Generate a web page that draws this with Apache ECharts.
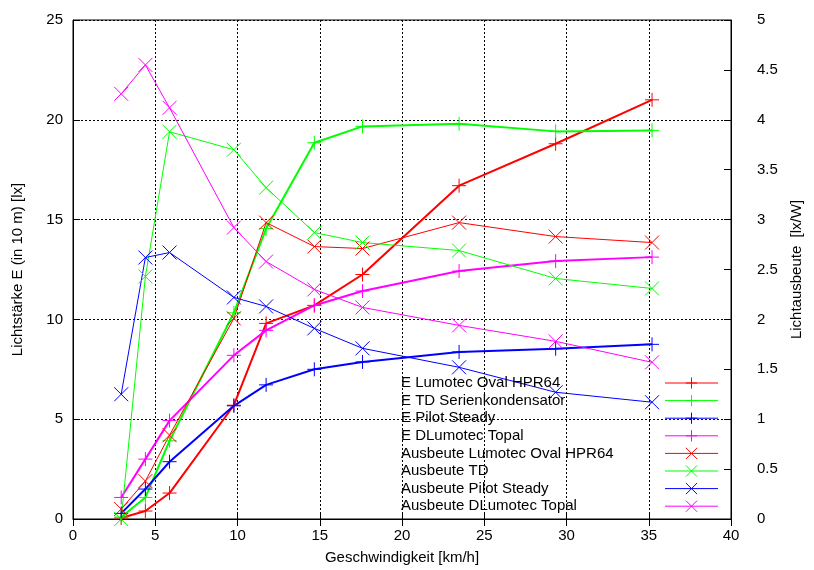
<!DOCTYPE html>
<html>
<head>
<meta charset="utf-8">
<script src="https://cdn.jsdelivr.net/npm/echarts@6/dist/echarts.min.js"></script>
<style>
html,body{margin:0;padding:0;background:#fff;}
#chart{width:814px;height:570px;}
</style>
</head>
<body>
<div id="chart"></div>
<script>
// Speeds (km/h)
var speeds = [2.93, 4.4, 5.87, 9.78, 11.74, 14.67, 17.6, 23.47, 29.34, 35.2];

// Illuminance E (lx), left axis
var eLumotec = [0.05, 0.4, 1.3, 5.7, 9.8, 10.7, 12.25, 16.7, 18.8, 21.0];
var eTD      = [0.1, 1.08, 3.92, 10.33, 14.55, 18.85, 19.67, 19.8, 19.42, 19.47];
var ePilot   = [0.28, 1.5, 2.87, 5.67, 6.72, 7.5, 7.87, 8.37, 8.53, 8.75];
var eTopal   = [1.08, 3.0, 4.93, 8.2, 9.45, 10.7, 11.42, 12.42, 12.92, 13.12];

// Efficiency (lx/W), right axis
var aLumotec = [0.1, 0.38, 0.84, 2.01, 2.97, 2.73, 2.71, 2.97, 2.83, 2.77];
var aTD      = [0.0, 2.43, 3.88, 3.7, 3.32, 2.87, 2.77, 2.69, 2.41, 2.31];
var aPilot   = [1.25, 2.62, 2.67, 2.22, 2.13, 1.91, 1.71, 1.52, 1.27, 1.17];
var aTopal   = [4.26, 4.55, 4.12, 2.92, 2.58, 2.3, 2.12, 1.94, 1.78, 1.57];

var names = [
  'E Lumotec Oval HPR64', 'E TD Serienkondensator', 'E Pilot Steady', 'E DLumotec Topal',
  'Ausbeute Lumotec Oval HPR64', 'Ausbeute TD', 'Ausbeute Pilot Steady', 'Ausbeute DLumotec Topal'
];
var colors = ['#ff0000', '#00ff00', '#0000ff', '#ff00ff'];

var PLUS = 'path://M0,-1L0,1M-1,0L1,0';
var CROSS = 'path://M-1,-1L1,1M-1,1L1,-1';
var FONT = 'Liberation Sans';

function pairs(ys) {
  return speeds.map(function (x, i) { return [x, ys[i]]; });
}

function mk(name, ys, color, yIdx, thick) {
  return {
    name: name,
    type: 'line',
    yAxisIndex: yIdx,
    data: pairs(ys),
    symbol: thick ? PLUS : CROSS,
    symbolSize: 14,
    showAllSymbol: true,
    animation: false,
    lineStyle: { color: color, width: thick ? 2 : 1 },
    itemStyle: { color: color, borderColor: color, borderWidth: 1 },
    emphasis: { disabled: true }
  };
}

var series = [
  mk(names[0], eLumotec, colors[0], 0, true),
  mk(names[1], eTD, colors[1], 0, true),
  mk(names[2], ePilot, colors[2], 0, true),
  mk(names[3], eTopal, colors[3], 0, true),
  mk(names[4], aLumotec, colors[0], 1, false),
  mk(names[5], aTD, colors[1], 1, false),
  mk(names[6], aPilot, colors[2], 1, false),
  mk(names[7], aTopal, colors[3], 1, false)
];

var chart = echarts.init(document.getElementById('chart'), null, { renderer: 'canvas' });
var txt = { color: '#000', fontFamily: FONT, fontSize: 15 };

chart.setOption({
  animation: false,
  backgroundColor: '#fff',
  grid: { left: 73, right: 83, top: 20, bottom: 50, show: true, borderColor: '#000', borderWidth: 1, backgroundColor: 'transparent' },
  legend: {
    data: names,
    orient: 'vertical',
    left: 396,
    top: 370,
    align: 'right',
    itemWidth: 53,
    itemHeight: 14,
    itemGap: 1.6,
    lineStyle: { width: 1 },
    itemStyle: { borderWidth: 1 },
    formatter: function (n) { return '{t|' + n + '}'; },
    textStyle: {
      color: '#000', fontFamily: FONT, fontSize: 15, lineHeight: 16,
      rich: { t: { width: 259, align: 'left', color: '#000', fontFamily: FONT, fontSize: 15, lineHeight: 16 } }
    },
    selectedMode: false
  },
  xAxis: [{
    type: 'value', min: 0, max: 40, interval: 5,
    name: 'Geschwindigkeit [km/h]', nameLocation: 'middle', nameGap: 31,
    nameTextStyle: txt,
    axisLine: { show: true, onZero: false, lineStyle: { color: '#000', width: 1 } },
    axisTick: { show: true, inside: true, length: 7, lineStyle: { color: '#000' } },
    axisLabel: { color: '#000', fontFamily: FONT, fontSize: 15, margin: 9 },
    splitLine: { show: true, lineStyle: { color: '#000', type: [2, 2], width: 1 } }
  }, {
    type: 'value', min: 0, max: 40, interval: 5, position: 'top',
    axisLine: { show: false },
    axisTick: { show: true, inside: true, length: 7, lineStyle: { color: '#000' } },
    axisLabel: { show: false },
    splitLine: { show: false }
  }],
  yAxis: [{
    type: 'value', min: 0, max: 25, interval: 5, position: 'left',
    name: 'Lichtstärke E (in 10 m) [lx]', nameLocation: 'middle', nameGap: 48, nameRotate: 90,
    nameTextStyle: txt,
    axisLine: { show: true, onZero: false, lineStyle: { color: '#000', width: 1 } },
    axisTick: { show: true, inside: true, length: 7, lineStyle: { color: '#000' } },
    axisLabel: { color: '#000', fontFamily: FONT, fontSize: 15, margin: 10 },
    splitLine: { show: true, lineStyle: { color: '#000', type: [2, 2], width: 1 } }
  }, {
    type: 'value', min: 0, max: 5, interval: 0.5, position: 'right',
    name: 'Lichtausbeute  [lx/W]', nameLocation: 'middle', nameGap: 58, nameRotate: 90,
    nameTextStyle: txt,
    axisLine: { show: true, onZero: false, lineStyle: { color: '#000', width: 1 } },
    axisTick: { show: true, inside: true, length: 7, lineStyle: { color: '#000' } },
    axisLabel: { color: '#000', fontFamily: FONT, fontSize: 15, margin: 26 },
    splitLine: { show: false }
  }],
  series: series
});
</script>
</body>
</html>
